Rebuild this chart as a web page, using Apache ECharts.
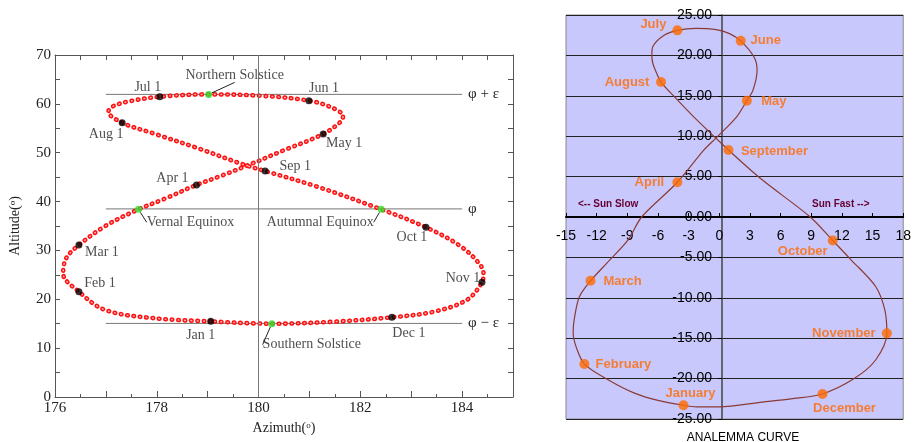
<!DOCTYPE html>
<html>
<head>
<meta charset="utf-8">
<script src="https://cdn.jsdelivr.net/npm/echarts@6/dist/echarts.min.js"></script>
<style>
html, body { margin: 0; padding: 0; background: #fff; }
#chart { width: 914px; height: 442px; }
</style>
</head>
<body>
<div id="chart"></div>
<script>
// ---- left panel: sun position (azimuth / altitude), about every 10 days
const leftAz = [179.06, 177.97, 176.99, 176.47, 176.16, 176.22, 176.47, 176.99, 177.64, 178.16,
  178.78, 179.28, 179.76, 180.51, 181.27, 181.62, 181.66, 181.45, 180.99, 180.05,
  179.02, 178.06, 177.45, 177.12, 177.05, 177.32, 177.95, 178.84, 179.70, 180.13,
  181.18, 182.41, 183.29, 183.95, 184.33, 184.42, 184.39, 184.09, 183.44, 182.62,
  181.45, 180.26, 179.06];
const leftAlt = [15.49, 16.10, 17.80, 21.55, 25.30, 28.40, 31.11, 35.00, 38.41, 40.60,
  43.39, 45.33, 47.30, 50.55, 53.83, 56.40, 57.50, 59.20, 60.65, 61.65,
  61.94, 61.46, 60.50, 59.40, 58.40, 56.14, 53.90, 50.80, 47.60, 46.25,
  42.95, 38.41, 34.73, 31.00, 27.40, 25.30, 23.47, 19.85, 17.46, 16.31,
  15.40, 15.00, 15.49];

const leftMonthNames = ['Jan 1', 'Feb 1', 'Mar 1', 'Apr 1', 'May 1', 'Jun 1',
  'Jul 1', 'Aug 1', 'Sep 1', 'Oct 1', 'Nov 1', 'Dec 1'];
const leftMonthAz = [179.06, 176.47, 176.47, 178.78, 181.27, 180.99, 178.06, 177.32, 180.13, 183.29, 184.39, 182.62];
const leftMonthAlt = [15.49, 21.55, 31.11, 43.39, 53.83, 60.65, 61.46, 56.14, 46.25, 34.73, 23.47, 16.31];

const eventNames = ['Northern Solstice', 'Vernal Equinox', 'Autumnal Equinox', 'Southern Solstice'];
const eventAz = [179.02, 177.64, 182.41, 180.26];
const eventAlt = [61.94, 38.41, 38.41, 15.0];

const refNames = ['\u03c6 + \u03b5', '\u03c6', '\u03c6 \u2212 \u03b5'];
const refAlt = [61.94, 38.5, 15.06];
const refFrom = 177, refTo = 184;
const centerAz = 180;

// ---- right panel: equation of time (min) vs declination (deg)
const eqTime = [-3.5, -6.0, -8.3, -10.8, -13.2, -14.0, -14.3, -14.2, -13.7, -12.6,
  -11.0, -8.9, -7.6, -4.1, -1.5, -0.3, 1.7, 2.7, 3.3, 3.7,
  3.4, 2.1, 1.0, -0.3, -2.3, -4.1, -5.4, -6.5, -6.6, -6.5,
  -6.2, -5.7, -4.4, -2.5, 0.9, 4.2, 8.9, 11.1, 12.9, 15.3,
  16.2, 16.4, 15.3, 13.2, 10.1, 7.0, 4.2, 0.0, -2.2, -3.5];
const decl = [-23.3, -22.7, -21.8, -20.2, -18.2, -16.1, -14.4, -12.7, -9.9, -7.9,
  -5.7, -2.8, 0.0, 4.3, 8.3, 9.8, 12.4, 14.4, 15.7, 18.2,
  19.8, 21.8, 22.7, 23.2, 23.35, 23.1, 22.5, 21.1, 20.0, 19.0,
  18.0, 16.7, 14.9, 12.4, 8.3, 4.6, 0.0, -2.9, -5.3, -8.6,
  -11.5, -14.4, -17.7, -20.0, -21.9, -22.5, -22.9, -23.5, -23.5, -23.3];

const monthNames = ['January', 'February', 'March', 'April', 'May', 'June',
  'July', 'August', 'September', 'October', 'November', 'December'];
const monthEq = [-3.5, -13.2, -12.6, -4.1, 2.7, 2.1, -4.1, -5.7, 0.9, 11.1, 16.4, 10.1];
const monthDecl = [-23.3, -18.2, -7.9, 4.3, 14.4, 21.8, 23.1, 16.7, 8.3, -2.9, -14.4, -21.9];

// label offsets (label centre relative to dot), px
const leftLabelOff = {
  'Jan 1': [-10, 14], 'Feb 1': [21, -8], 'Mar 1': [23, 7], 'Apr 1': [-24, -7],
  'May 1': [21, 9], 'Jun 1': [15, -12], 'Jul 1': [-12, -9], 'Aug 1': [-16, 12],
  'Sep 1': [30, -5], 'Oct 1': [-14, 10], 'Nov 1': [-19, -4], 'Dec 1': [17, 16]
};
const eventLabelOff = {
  'Northern Solstice': [26, -19], 'Vernal Equinox': [52, 13],
  'Autumnal Equinox': [-61, 13], 'Southern Solstice': [40, 21]
};
const rightLabelOff = {
  January: [7, -12], February: [39, 0], March: [32, 1], April: [-28, 0],
  May: [27, 1], June: [25, 0], July: [-24, -6], August: [-34, 0],
  September: [46, 1], October: [-30, 11], November: [-43, 0], December: [22, 14]
};

const zip = (a, b) => a.map((v, i) => [v, b[i]]);
const serif = 'Liberation Serif';
const sans = 'Liberation Sans';

// right grid box, used to put the axes through the origin
const rg = { left: 566, top: 15, width: 343, height: 404 };
const rxMin = -15, rxMax = 18, ryMin = -25, ryMax = 25;
const yAxisShift = -Math.round(rg.width * (0 - rxMin) / (rxMax - rxMin));
const xAxisShift = -Math.round(rg.height * (0 - ryMin) / (ryMax - ryMin));

const chart = echarts.init(document.getElementById('chart'));

const refSeries = refNames.map((n, i) => ({
  type: 'line', xAxisIndex: 0, yAxisIndex: 0, symbol: 'none', silent: true,
  data: [[refFrom, refAlt[i]], [refTo, refAlt[i]]],
  lineStyle: { color: '#777', width: 1 },
  endLabel: { show: true, formatter: n, fontFamily: serif, fontSize: 15, color: '#222', distance: 6 },
  markLine: i === 0 ? {
    symbol: 'none', silent: true, label: { show: false },
    lineStyle: { color: '#777', width: 1, type: 'solid' },
    data: [{ xAxis: centerAz }]
  } : undefined,
  z: 1
}));

const option = {
  animation: false,
  title: {
    text: 'ANALEMMA CURVE', left: 738, top: 427, textAlign: 'center',
    textStyle: { fontFamily: sans, fontSize: 12, fontWeight: 'normal', color: '#000' }
  },
  grid: [
    { left: 49, top: 55, width: 464, height: 342 },
    { left: rg.left, top: rg.top, width: rg.width, height: rg.height, show: true,
      backgroundColor: '#c8c8fc', borderColor: '#888', borderWidth: 1 }
  ],
  xAxis: [
    {
      gridIndex: 0, type: 'value', min: 176, max: 185, interval: 1, position: 'bottom',
      axisLine: { onZero: false, lineStyle: { color: '#555' } },
      axisTick: { inside: true, length: 6, lineStyle: { color: '#555' } },
      minorTick: { show: true, splitNumber: 2, length: 3, lineStyle: { color: '#555' } },
      splitLine: { show: false },
      axisLabel: {
        formatter: v => (v % 2 === 0 && v < 185 ? String(v) : ''),
        fontFamily: serif, fontSize: 15, color: '#222', margin: 4
      },
      name: 'Azimuth({s|o})', nameLocation: 'middle', nameGap: 21,
      nameTextStyle: {
        fontFamily: serif, fontSize: 14, color: '#222',
        rich: { s: { fontFamily: serif, fontSize: 9, color: '#222', verticalAlign: 'top', padding: [0, 0, 6, 0] } }
      }
    },
    {
      gridIndex: 0, type: 'value', min: 176, max: 185, interval: 1, position: 'top',
      axisLine: { onZero: false, lineStyle: { color: '#555' } },
      axisTick: { inside: true, length: 5, lineStyle: { color: '#555' } },
      minorTick: { show: true, splitNumber: 2, length: 5, lineStyle: { color: '#555' } },
      splitLine: { show: false }, axisLabel: { show: false }
    },
    {
      gridIndex: 1, type: 'value', min: rxMin, max: rxMax, interval: 3,
      position: 'bottom', offset: xAxisShift,
      axisLine: { onZero: false, lineStyle: { color: '#000', width: 2 } },
      axisTick: { inside: true, length: 4, lineStyle: { color: '#000' } },
      splitLine: { show: false },
      axisLabel: { fontFamily: sans, fontSize: 14, color: '#000', margin: 12 }
    }
  ],
  yAxis: [
    {
      gridIndex: 0, type: 'value', min: 0, max: 70, interval: 5,
      axisLine: { show: true, onZero: false, lineStyle: { color: '#555' } },
      axisTick: { show: true, inside: true, length: 5, lineStyle: { color: '#555' } },
      splitLine: { show: false },
      axisLabel: {
        formatter: v => (v % 10 === 0 ? String(v) : ''),
        fontFamily: serif, fontSize: 15, color: '#222', margin: 4
      },
      name: 'Altitude({s|o})', nameLocation: 'middle', nameGap: 32, nameRotate: 90,
      nameTextStyle: {
        fontFamily: serif, fontSize: 14, color: '#222',
        rich: { s: { fontFamily: serif, fontSize: 9, color: '#222', verticalAlign: 'top', padding: [0, 0, 6, 0] } }
      }
    },
    {
      gridIndex: 0, type: 'value', min: 0, max: 70, interval: 5, position: 'right',
      axisLine: { show: true, onZero: false, lineStyle: { color: '#555' } },
      axisTick: { show: true, inside: true, length: 5, lineStyle: { color: '#555' } },
      splitLine: { show: false }, axisLabel: { show: false }
    },
    {
      gridIndex: 1, type: 'value', min: ryMin, max: ryMax, interval: 5,
      position: 'left', offset: yAxisShift,
      axisLine: { show: true, onZero: false, lineStyle: { color: '#444', width: 1.5 } },
      axisTick: { show: true, length: 4, lineStyle: { color: '#000' } },
      splitLine: { show: true, lineStyle: { color: '#222', width: 1 } },
      axisLabel: { formatter: v => v.toFixed(2), fontFamily: sans, fontSize: 14, color: '#000', margin: 10 }
    }
  ],
  graphic: [
    { type: 'text', left: 578, top: 199, style: { text: '<-- Sun Slow', font: 'bold 10px Liberation Sans', fill: '#660033' } },
    { type: 'text', left: 812, top: 199, style: { text: 'Sun Fast -->', font: 'bold 10px Liberation Sans', fill: '#660033' } }
  ],
  series: [
    ...refSeries,
    {
      type: 'line', xAxisIndex: 0, yAxisIndex: 0, symbol: 'none', smooth: 0.35, silent: true,
      data: zip(leftAz, leftAlt),
      lineStyle: { color: '#ff1010', width: 4.6, type: [0.6, 5.8], cap: 'round' }, z: 3
    },
    {
      type: 'line', xAxisIndex: 0, yAxisIndex: 0, symbol: 'none', smooth: 0.35, silent: true,
      data: zip(leftAz, leftAlt),
      lineStyle: { color: '#ffa8a8', width: 1.6, type: [0.6, 5.8], cap: 'round' }, z: 4
    },
    {
      type: 'scatter', xAxisIndex: 0, yAxisIndex: 0, symbolSize: 7,
      data: leftMonthNames.map((n, i) => ({ name: n, value: [leftMonthAz[i], leftMonthAlt[i]] })),
      itemStyle: { color: '#000' },
      label: {
        show: true, position: 'inside', formatter: '{b}',
        fontFamily: serif, fontSize: 14, color: '#222'
      },
      labelLayout: p => {
        const o = leftLabelOff[leftMonthNames[p.dataIndex]];
        return { dx: o[0], dy: o[1] };
      },
      z: 6
    },
    {
      type: 'scatter', xAxisIndex: 0, yAxisIndex: 0, symbolSize: 7,
      data: eventNames.map((n, i) => ({ name: n, value: [eventAz[i], eventAlt[i]] })),
      itemStyle: { color: '#2ee02e' },
      label: {
        show: true, position: 'inside', formatter: '{b}',
        fontFamily: serif, fontSize: 14, color: '#222'
      },
      labelLine: { show: true, lineStyle: { color: '#222', width: 1 } },
      labelLayout: p => {
        const o = eventLabelOff[eventNames[p.dataIndex]];
        return { dx: o[0], dy: o[1] };
      },
      z: 6
    },
    {
      type: 'line', xAxisIndex: 2, yAxisIndex: 2, symbol: 'none', smooth: 0.3, silent: true,
      data: zip(eqTime, decl),
      lineStyle: { color: '#8a3b35', width: 1.2 }, z: 3
    },
    {
      type: 'scatter', xAxisIndex: 2, yAxisIndex: 2, symbolSize: 10,
      data: monthNames.map((n, i) => ({ name: n, value: [monthEq[i], monthDecl[i]] })),
      itemStyle: { color: '#ff6a00' },
      label: {
        show: true, position: 'inside', formatter: '{b}',
        fontFamily: sans, fontSize: 13, fontWeight: 'bold', color: '#ff6a00'
      },
      labelLayout: p => {
        const o = rightLabelOff[monthNames[p.dataIndex]];
        return { dx: o[0], dy: o[1] };
      },
      z: 6
    }
  ]
};

chart.setOption(option);
</script>
</body>
</html>
